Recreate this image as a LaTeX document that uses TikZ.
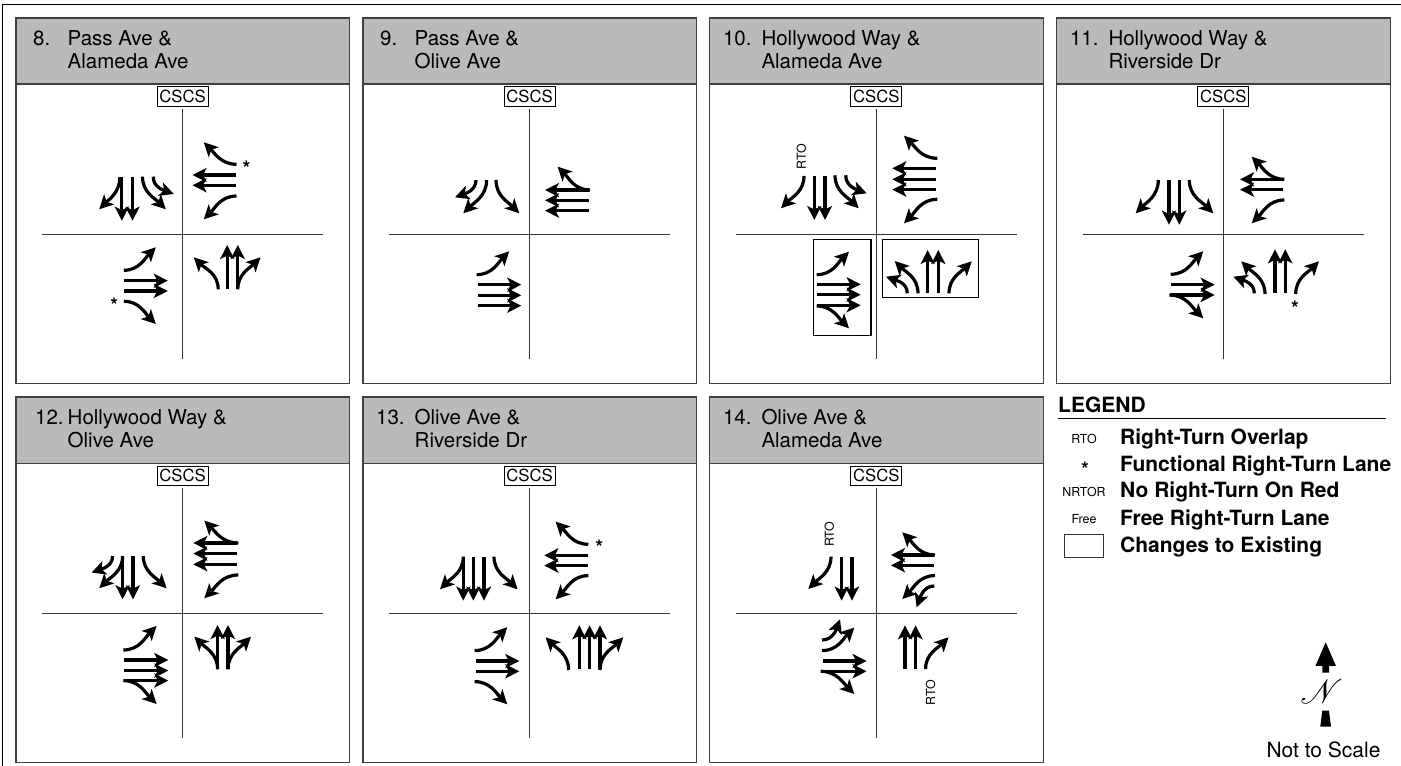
\documentclass[tikz,border=0pt]{standalone}
\usepackage{fontspec}
\usepackage{mathrsfs}
\setmainfont{TeX Gyre Heros}
\usetikzlibrary{arrows.meta}
\newcommand\fs[1]{\fontsize{#1}{#1}\selectfont}
\tikzset{
  x=1pt,y=1pt,
  panelline/.style={draw=black!75,line width=1.1pt},
  crossline/.style={draw=black!80,line width=0.9pt},
  lanearrow/.style={draw=black,line width=3.2pt,-{Stealth[length=14pt,width=14pt,inset=3.5pt]}},
  changebox/.style={draw=black,line width=1.1pt},
  headtext/.style={anchor=base west,inner sep=0pt,font=\fs{20.5}},
  smalltext/.style={inner sep=0pt,font=\fs{12.4}},
  startext/.style={inner sep=0pt,yshift=-3pt,font=\bfseries\fs{20}},
  legendtext/.style={anchor=base west,inner sep=0pt,font=\bfseries\fs{21}},
  st/.style={},
  sbl/.style={out=-90,in=45},
  sbr/.style={out=-90,in=135},
  wbl/.style={out=180,in=45},
  wbr/.style={out=180,in=-45},
  ebl/.style={out=0,in=-135},
  ebr/.style={out=0,in=135},
  nbl/.style={out=90,in=-45},
  nbr/.style={out=90,in=-135},
  sbls/.style={out=-90,in=20},
  sbrs/.style={out=-90,in=160},
  wbls/.style={out=180,in=70},
  ebls/.style={out=0,in=-110},
  nbls/.style={out=90,in=-20},
}
\newcommand\LA[3]{\draw[lanearrow] #2 to[#1] #3;}
% id, left, top, header bottom, bottom, cy, number x offset, line 1, line 2
\newcommand\panel[9]{%
  \fill[black!27] (#2,#3) rectangle (#2+333.5,#4);
  \draw[panelline] (#2,#3) rectangle (#2+333.5,#5);
  \draw[panelline] (#2,#4) -- (#2+333.5,#4);
  \node[headtext] (n#1) at (#2+#7,#4+38.7) {#1.};
  \node[headtext] (a#1) at (#2+51.5,#4+38.7) {#8};
  \node[headtext] (b#1) at (#2+51.5,#4+15.7) {#9};
  \draw[crossline] (#2+166.5,#6+125) -- (#2+166.5,#6-125);
  \draw[crossline] (#2+26,#6) -- (#2+307,#6);
  \node[draw=black,fill=white,line width=0.9pt,inner sep=0pt,minimum width=51pt,minimum height=19.5pt,font=\fs{16.7}] (c#1) at (#2+166.5,#6+137.5) {CSCS};
}
\begin{document}
\begin{tikzpicture}
\useasboundingbox (0,0) rectangle (1401,766);
\draw[black,line width=1pt] (2.5,0) -- (2.5,761.7) -- (1401,761.7);

\panel{8}{16}{748}{682}{382.7}{532}{17}{Pass Ave \&}{Alameda Ave}
\panel{9}{363}{748}{682}{382.7}{532}{17}{Pass Ave \&}{Olive Ave}
\panel{10}{709.8}{748}{682}{382.7}{532}{13}{Hollywood Way \&}{Alameda Ave}
\panel{11}{1056.8}{748}{682}{382.7}{532}{13}{Hollywood Way \&}{Riverside Dr}
\panel{12}{16}{369}{302.7}{3.7}{152.7}{19}{Hollywood Way \&}{Olive Ave}
\panel{13}{363}{369}{302.7}{3.7}{152.7}{13}{Olive Ave \&}{Riverside Dr}
\panel{14}{709.8}{369}{302.7}{3.7}{152.7}{13}{Olive Ave \&}{Alameda Ave}

% Panel 8
\begin{scope}[shift={(182.5,532)}]
\LA{sbl}{(-62.7,56.7)}{(-83.3,24.7)}
\LA{st}{(-60.7,56.7)}{(-60.7,13.3)}
\LA{st}{(-50,56.7)}{(-50,13.3)}
\LA{sbr}{(-40,57.3)}{(-16.7,24.7)}
\LA{sbrs}{(-29.3,57.3)}{(-8.7,40)}
\LA{wbr}{(54,69.7)}{(21.3,91.7)}
\LA{st}{(53.3,59)}{(10,59)}
\LA{st}{(53.3,48.7)}{(10,48.7)}
\LA{wbl}{(54,38)}{(21.3,14.7)}
\LA{ebl}{(-58.7,-36.3)}{(-26.7,-13.3)}
\LA{st}{(-58.7,-46.7)}{(-14.7,-46.7)}
\LA{st}{(-58.7,-57)}{(-14.7,-57)}
\LA{ebr}{(-58.7,-67.3)}{(-26.7,-90)}
\LA{nbl}{(35.7,-55.3)}{(11.3,-23.3)}
\LA{st}{(44.7,-55.3)}{(44.7,-11)}
\LA{st}{(55.3,-55.3)}{(55.3,-11)}
\LA{nbr}{(55.3,-55.3)}{(78,-23.3)}
\node[startext] (s8a) at (64,69) {*};
\node[startext] (s8b) at (-68.3,-68.7) {*};
\end{scope}

% Panel 9
\begin{scope}[shift={(529.3,532)}]
\LA{sbls}{(-53.3,54)}{(-74.3,36.7)}
\LA{sbl}{(-42.7,54)}{(-66,20.7)}
\LA{sbr}{(-33.3,54)}{(-10,20.7)}
\LA{wbr}{(60.7,44)}{(28.3,67.3)}
\LA{st}{(60,44)}{(15.7,44)}
\LA{st}{(60,33.7)}{(15.7,33.7)}
\LA{st}{(60,23.3)}{(15.7,23.3)}
\LA{ebl}{(-52.7,-40.7)}{(-20,-17.3)}
\LA{st}{(-51.7,-50.7)}{(-8,-50.7)}
\LA{st}{(-51.7,-61.3)}{(-8,-61.3)}
\LA{st}{(-51.7,-71.7)}{(-8,-71.7)}
\end{scope}

% Panel 10
\begin{scope}[shift={(876,532)}]
\LA{sbl}{(-72,58)}{(-95,25.7)}
\LA{st}{(-61.7,58)}{(-61.7,14)}
\LA{st}{(-51,58)}{(-51,14)}
\LA{sbr}{(-41,58.7)}{(-17.3,25.7)}
\LA{sbrs}{(-30.3,58.7)}{(-9.3,40.7)}
\node[smalltext,rotate=90] (r10) at (-74.7,77.3) {RTO};
\LA{wbr}{(61.3,75.7)}{(28,98.3)}
\LA{st}{(60,65.7)}{(16.3,65.7)}
\LA{st}{(60,54.7)}{(16.3,54.7)}
\LA{st}{(60,44.3)}{(16.3,44.3)}
\LA{wbl}{(61.3,34.7)}{(28,10.7)}
\draw[changebox] (-62.7,-5.3) rectangle (-5,-101.7);
\LA{ebl}{(-59.3,-40.7)}{(-27,-17.7)}
\LA{st}{(-58.7,-50.3)}{(-15.3,-50.3)}
\LA{st}{(-58.7,-60.7)}{(-15.3,-60.7)}
\LA{st}{(-58.7,-71.3)}{(-15.3,-71.3)}
\LA{ebr}{(-59.3,-72)}{(-27,-94.3)}
\draw[changebox] (6.3,-5.3) rectangle (102.3,-63.3);
\LA{nbls}{(31.3,-59.3)}{(10,-42.7)}
\LA{nbl}{(42,-59.3)}{(18.7,-27)}
\LA{st}{(51.7,-59.3)}{(51.7,-16)}
\LA{st}{(62.3,-59.3)}{(62.3,-16)}
\LA{nbr}{(73,-59.3)}{(95.7,-27.3)}
\end{scope}

% Panel 11
\begin{scope}[shift={(1223,532)}]
\LA{sbl}{(-64.7,54)}{(-87.3,20.7)}
\LA{st}{(-54,54)}{(-54,9.3)}
\LA{st}{(-43.7,54)}{(-43.7,9.3)}
\LA{sbr}{(-33.7,54)}{(-9.7,20.7)}
\LA{wbr}{(61.3,54.7)}{(28.7,77.3)}
\LA{st}{(60.3,54.7)}{(17,54.7)}
\LA{st}{(60.3,44.3)}{(17,44.3)}
\LA{wbl}{(61.3,34)}{(28.7,10.7)}
\LA{ebl}{(-52.3,-40.3)}{(-19.7,-17.3)}
\LA{st}{(-51.7,-50.7)}{(-8.3,-50.7)}
\LA{st}{(-51.7,-61)}{(-8.3,-61)}
\LA{ebr}{(-53.7,-61)}{(-19.7,-84.3)}
\LA{nbls}{(31.3,-59.3)}{(10.3,-42.7)}
\LA{nbl}{(42,-60)}{(18.3,-27.3)}
\LA{st}{(52,-59.3)}{(52,-15.3)}
\LA{st}{(62.3,-59.3)}{(62.3,-15.3)}
\LA{nbr}{(72.7,-60)}{(96,-27.3)}
\node[startext] (s11) at (72,-71) {*};
\end{scope}

% Panel 12
\begin{scope}[shift={(182.3,152.7)}]
\LA{sbls}{(-69.7,57.3)}{(-90.7,40.7)}
\LA{sbl}{(-59.7,57.3)}{(-83,25)}
\LA{st}{(-59.7,57.3)}{(-59.7,14)}
\LA{st}{(-49.3,57.3)}{(-49.3,14)}
\LA{sbr}{(-39,57.3)}{(-15.7,25)}
\LA{wbr}{(56,70.3)}{(22,92.7)}
\LA{st}{(54.3,70.3)}{(11,70.3)}
\LA{st}{(54.3,59.7)}{(11,59.7)}
\LA{st}{(54.3,49)}{(11,49)}
\LA{wbl}{(56,38.3)}{(22,15)}
\LA{ebl}{(-59,-36.7)}{(-25.7,-12.7)}
\LA{st}{(-58,-46.7)}{(-14,-46.7)}
\LA{st}{(-58,-57.3)}{(-14,-57.3)}
\LA{st}{(-58,-67.3)}{(-14,-67.3)}
\LA{ebr}{(-59,-67.3)}{(-25.7,-90.7)}
\LA{nbl}{(35.3,-56)}{(12,-23.3)}
\LA{st}{(35.3,-56)}{(35.3,-11.7)}
\LA{st}{(45.7,-56)}{(45.7,-11.7)}
\LA{nbr}{(45.7,-56)}{(68.7,-23.3)}
\end{scope}

% Panel 13
\begin{scope}[shift={(529.3,152.7)}]
\LA{sbl}{(-66,56.7)}{(-89.3,24)}
\LA{st}{(-66,56.7)}{(-66,12.7)}
\LA{st}{(-56,56.7)}{(-56,12.7)}
\LA{st}{(-45.3,56.7)}{(-45.3,12.7)}
\LA{sbr}{(-35.3,56.7)}{(-11.7,24)}
\LA{wbr}{(59,69)}{(26.3,91.7)}
\LA{st}{(58.3,58)}{(15,58)}
\LA{st}{(58.3,47.7)}{(15,47.7)}
\LA{wbl}{(59,37.7)}{(26.3,14)}
\node[startext] (s13) at (70,68.7) {*};
\LA{ebl}{(-54.7,-37.3)}{(-22,-14)}
\LA{st}{(-53.3,-47.7)}{(-10,-47.7)}
\LA{st}{(-53.3,-58)}{(-10,-58)}
\LA{ebr}{(-54.7,-68.3)}{(-22,-91)}
\LA{nbl}{(39.3,-56.7)}{(16.3,-24)}
\LA{st}{(50,-56)}{(50,-12)}
\LA{st}{(60.3,-56)}{(60.3,-12)}
\LA{st}{(70.7,-56)}{(70.7,-12)}
\LA{nbr}{(70.7,-56.7)}{(94,-24)}
\end{scope}

% Panel 14
\begin{scope}[shift={(876.3,152.7)}]
\LA{sbl}{(-45.3,56.7)}{(-68,24.3)}
\LA{st}{(-34.7,56)}{(-34.7,12.7)}
\LA{st}{(-24.3,56)}{(-24.3,12.7)}
\node[smalltext,rotate=90] (r14a) at (-47,79) {RTO};
\LA{wbr}{(58.7,58.3)}{(26,81)}
\LA{st}{(58,58.3)}{(14.7,58.3)}
\LA{st}{(58,48)}{(14.7,48)}
\LA{wbl}{(58.7,37.7)}{(26,14.3)}
\LA{wbls}{(58,27.3)}{(40.3,6)}
\LA{ebls}{(-54.3,-26.7)}{(-36.3,-6)}
\LA{ebl}{(-54.3,-37.3)}{(-22,-14.3)}
\LA{st}{(-53.7,-47.7)}{(-9.7,-47.7)}
\LA{st}{(-53.7,-58)}{(-9.7,-58)}
\LA{ebr}{(-55.7,-58)}{(-22,-80.7)}
\LA{st}{(28.7,-55.7)}{(28.7,-12)}
\LA{st}{(39.3,-55.7)}{(39.3,-12)}
\LA{nbr}{(49.3,-55.7)}{(72.3,-24)}
\node[smalltext,rotate=90] (r14b) at (54.3,-79.3) {RTO};
\end{scope}

% Legend
\node[legendtext] (leg) at (1058,353) {LEGEND};
\draw[black,line width=0.9pt] (1058,347.3) -- (1386,347.3);
\node[smalltext] (k1) at (1084,327.3) {RTO};
\node[startext] (k2) at (1085,300) {*};
\node[smalltext] (k3) at (1084,274) {NRTOR};
\node[smalltext] (k4) at (1084,247) {Free};
\node[draw=black!80,line width=0.9pt,minimum width=39.5pt,minimum height=23pt,inner sep=0pt] (k5) at (1084,220.3) {};
\node[legendtext] (t1) at (1120,321) {Right-Turn Overlap};
\node[legendtext] (t2) at (1120,294) {Functional Right-Turn Lane};
\node[legendtext] (t3) at (1120,268) {No Right-Turn On Red};
\node[legendtext] (t4) at (1120,240) {Free Right-Turn Lane};
\node[legendtext] (t5) at (1120,213) {Changes to Existing};

% North arrow
\fill[black] (1325.7,123.7) -- (1336,100) -- (1329,100) -- (1329,93.3) -- (1322.3,93.3) -- (1322.3,100) -- (1315.4,100) -- cycle;
\node[inner sep=0pt,scale=3.4] (north) at (1321.7,74.3) {$\mathscr{N}$};
\fill[black] (1322.3,55.3) -- (1329,55.3) -- (1331,39.3) -- (1320.3,39.3) -- cycle;
\node[inner sep=0pt,anchor=base,font=\fs{21}] (scale) at (1323.5,8) {Not to Scale};
\end{tikzpicture}
\end{document}
